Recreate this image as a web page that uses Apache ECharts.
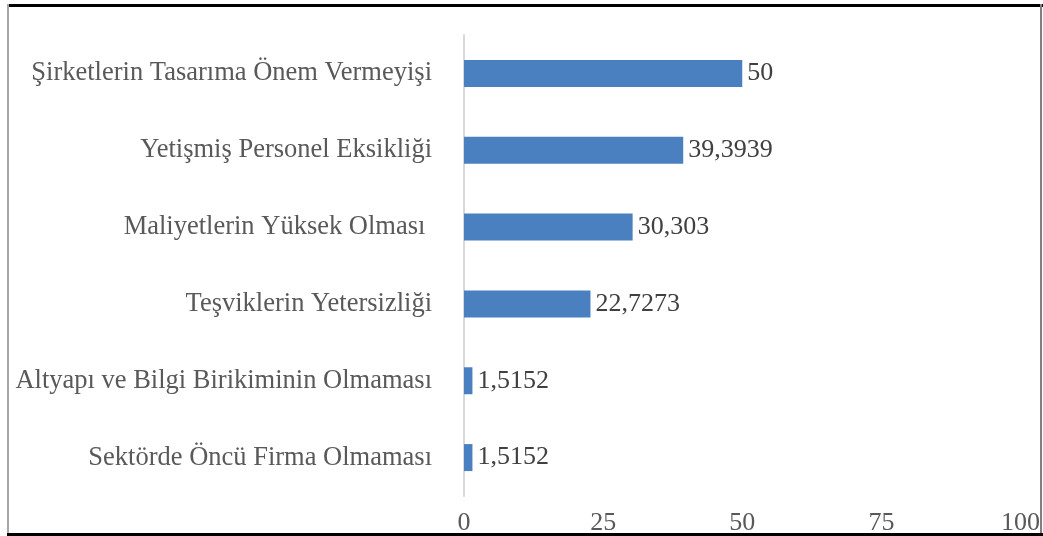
<!DOCTYPE html>
<html>
<head>
<meta charset="utf-8">
<script src="https://cdn.jsdelivr.net/npm/echarts@6/dist/echarts.min.js"></script>
<style>
  html, body { margin: 0; padding: 0; background: #ffffff; }
  #chart { width: 1043px; height: 536px; }
</style>
</head>
<body>
<div id="chart"></div>
<script>
// Categories listed bottom to top (category axis on the y side starts at the bottom)
const categories = [
  'Sektörde Öncü Firma Olmaması',
  'Altyapı ve Bilgi Birikiminin Olmaması',
  'Teşviklerin Yetersizliği',
  'Maliyetlerin Yüksek Olması ',
  'Yetişmiş Personel Eksikliği',
  'Şirketlerin Tasarıma Önem Vermeyişi'
];
const values = [1.5152, 1.5152, 22.7273, 30.303, 39.3939, 50];
const labelTexts = ['1,5152', '1,5152', '22,7273', '30,303', '39,3939', '50'];
const axisTicks = [0, 25, 50, 75, 100];

const serif = '"Liberation Serif", "DejaVu Serif", serif';
const chart = echarts.init(document.getElementById('chart'), null, { renderer: 'canvas' });

chart.setOption({
  animation: false,
  backgroundColor: '#ffffff',
  grid: { left: 464, right: 19, top: 35, bottom: 40, containLabel: false },
  xAxis: {
    type: 'value',
    min: axisTicks[0],
    max: axisTicks[axisTicks.length - 1],
    interval: axisTicks[1] - axisTicks[0],
    axisLine: { show: false },
    axisTick: { show: false },
    splitLine: { show: false },
    axisLabel: {
      color: '#595959',
      fontFamily: serif,
      fontSize: 26,
      margin: 14
    }
  },
  yAxis: {
    type: 'category',
    data: categories,
    axisLine: { show: true, lineStyle: { color: '#d9d9d9', width: 2 } },
    axisTick: { show: false },
    axisLabel: {
      color: '#595959',
      fontFamily: serif,
      fontSize: 26.5,
      margin: 32
    }
  },
  series: [{
    type: 'bar',
    data: values,
    barWidth: 27,
    itemStyle: { color: '#4a80c0' },
    label: {
      show: true,
      position: 'right',
      distance: 5,
      color: '#404040',
      fontFamily: serif,
      fontSize: 26,
      formatter: p => labelTexts[p.dataIndex]
    }
  }],
  graphic: [
    // outer frame
    { type: 'rect', shape: { x: 7, y: 4, width: 1036, height: 3 }, style: { fill: '#000000' } },
    { type: 'rect', shape: { x: 7, y: 4, width: 2, height: 532 }, style: { fill: '#a6a6a6' } },
    { type: 'rect', shape: { x: 1040, y: 4, width: 2, height: 532 }, style: { fill: '#808080' } },
    { type: 'rect', shape: { x: 7, y: 533, width: 1036, height: 3 }, style: { fill: '#000000' } }
  ]
});
</script>
</body>
</html>
